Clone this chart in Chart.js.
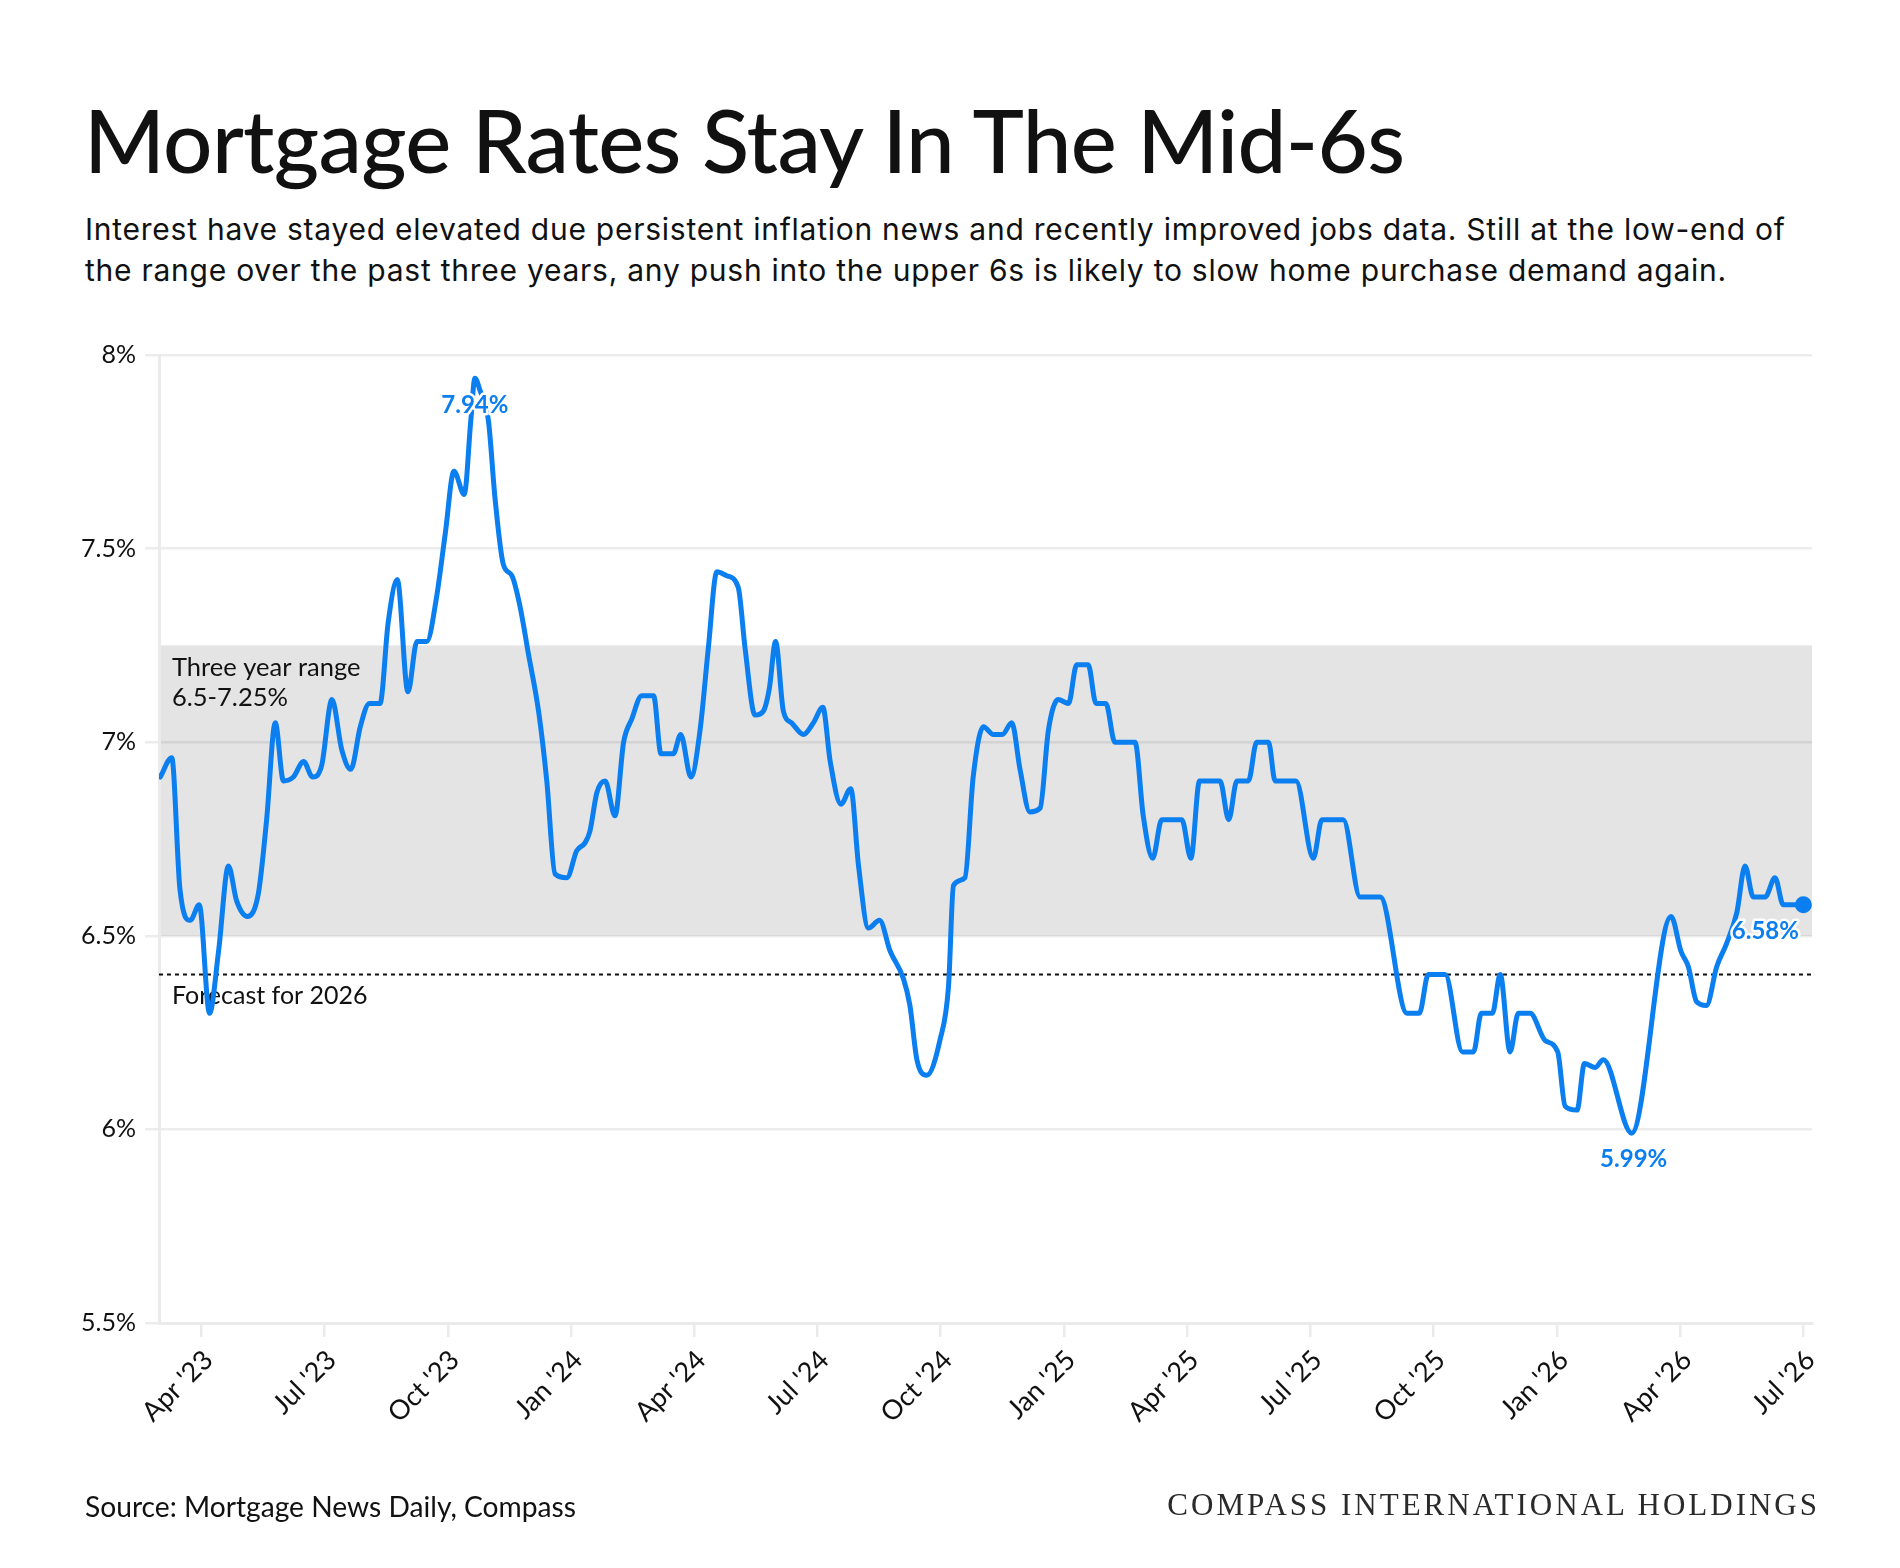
<!DOCTYPE html>
<html>
<head>
<meta charset="utf-8">
<script src="https://cdn.jsdelivr.net/npm/chart.js@4.4.1/dist/chart.umd.min.js"></script>
<style>
  html, body { margin: 0; padding: 0; background: #fff; }
  body { width: 1900px; height: 1568px; position: relative; overflow: hidden; font-family: Lato, "Open Sans", sans-serif; color: #111; }
  #title { position: absolute; left: 84px; top: 96px; font-size: 87px; line-height: 87px; font-weight: 500; letter-spacing: -0.7px; white-space: nowrap; }
  #sub { position: absolute; left: 85px; top: 209px; font-family: Inter, Lato, sans-serif; font-size: 30px; line-height: 41px; letter-spacing: 0.75px; white-space: nowrap; }
  #source { position: absolute; left: 85px; top: 1490px; font-size: 28.2px; line-height: 32px; white-space: nowrap; }
  #brand { position: absolute; right: 80px; top: 1488px; font-family: "Liberation Serif", "DejaVu Serif", serif; font-size: 31px; line-height: 34px; letter-spacing: 3px; color: #2a2a2a; white-space: nowrap; }
  #wrap { position: absolute; left: 0; top: 0; width: 1900px; height: 1568px; }
</style>
</head>
<body>
<div id="title">Mortgage Rates Stay In The Mid-6s</div>
<div id="sub">Interest have stayed elevated due persistent inflation news and recently improved jobs data. Still at the low-end of<br>the range over the past three years, any push into the upper 6s is likely to slow home purchase demand again.</div>
<div id="wrap"><canvas id="chart"></canvas></div>
<div id="source">Source: Mortgage News Daily, Compass</div>
<div id="brand">COMPASS INTERNATIONAL HOLDINGS</div>
<script>
// x = months after 1 Jan 2023 (3 = Apr 2023), y = 30-yr mortgage rate in %
var monthPos = [
  2.00, 2.28, 2.48, 2.73, 2.95, 3.20, 3.42, 3.66, 3.86, 4.12, 4.39, 4.59, 4.80, 5.00, 5.24, 5.49, 5.71, 5.93,
  6.18, 6.42, 6.64, 6.87, 7.09, 7.35, 7.55, 7.77, 8.03, 8.25, 8.49, 8.72, 8.94, 9.15, 9.40, 9.56, 9.66, 9.78,
  9.99, 10.15, 10.35, 10.56, 10.76, 10.96, 11.21, 11.41, 11.61, 11.90, 12.14, 12.34, 12.46, 12.63, 12.83, 13.07,
  13.28, 13.48, 13.72, 14.01, 14.19, 14.49, 14.67, 14.92, 15.14, 15.34, 15.55, 15.79, 16.07, 16.24, 16.48, 16.68,
  16.83, 16.98, 17.17, 17.37, 17.66, 17.90, 18.13, 18.31, 18.57, 18.81, 19.00, 19.24, 19.51, 19.77, 20.09, 20.25,
  20.42, 20.66, 20.98, 21.19, 21.31, 21.59, 21.79, 22.04, 22.28, 22.50, 22.73, 22.93, 23.17, 23.42, 23.62, 23.86,
  24.11, 24.31, 24.59, 24.78, 25.02, 25.24, 25.73, 25.93, 26.16, 26.38, 26.87, 27.09, 27.30, 27.80, 28.01, 28.21,
  28.49, 28.69, 28.98, 29.14, 29.65, 30.07, 30.28, 30.80, 31.21, 31.70, 32.35, 32.65, 32.87, 33.28, 33.70, 33.97,
  34.16, 34.43, 34.62, 34.86, 35.06, 35.35, 35.71, 36.02, 36.20, 36.49, 36.67, 36.93, 37.13, 37.82, 38.78, 39.02,
  39.20, 39.40, 39.64, 39.89, 40.13, 40.38, 40.58, 40.78, 41.07, 41.31, 41.51, 42.00
];
var rates = [
  6.91, 6.96, 6.62, 6.54, 6.58, 6.30, 6.46, 6.68, 6.59, 6.55, 6.61, 6.80, 7.05, 6.90, 6.91, 6.95, 6.91, 6.94,
  7.11, 6.98, 6.93, 7.04, 7.10, 7.10, 7.31, 7.42, 7.13, 7.26, 7.26, 7.37, 7.54, 7.70, 7.64, 7.83, 7.94, 7.91,
  7.83, 7.63, 7.46, 7.43, 7.35, 7.23, 7.08, 6.90, 6.66, 6.65, 6.72, 6.74, 6.77, 6.87, 6.90, 6.81,
  7.00, 7.06, 7.12, 7.12, 6.97, 6.97, 7.02, 6.91, 7.03, 7.24, 7.44, 7.43, 7.40, 7.24, 7.07, 7.08,
  7.14, 7.26, 7.08, 7.05, 7.02, 7.05, 7.09, 6.95, 6.84, 6.88, 6.68, 6.52, 6.54, 6.46, 6.39, 6.32,
  6.18, 6.14, 6.23, 6.37, 6.63, 6.65, 6.91, 7.04, 7.02, 7.02, 7.05, 6.93, 6.82, 6.83, 7.03, 7.11,
  7.10, 7.20, 7.20, 7.10, 7.10, 7.00, 7.00, 6.81, 6.70, 6.80, 6.80, 6.70, 6.90, 6.90, 6.80, 6.90,
  6.90, 7.00, 7.00, 6.90, 6.90, 6.70, 6.80, 6.80, 6.60, 6.60, 6.30, 6.30, 6.40, 6.40, 6.20, 6.20,
  6.30, 6.30, 6.40, 6.20, 6.30, 6.30, 6.23, 6.20, 6.06, 6.05, 6.17, 6.16, 6.18, 5.99, 6.55, 6.46,
  6.42, 6.33, 6.32, 6.42, 6.48, 6.56, 6.68, 6.60, 6.60, 6.65, 6.58, 6.58
];

var tickMonths = [3, 6, 9, 12, 15, 18, 21, 24, 27, 30, 33, 36, 39, 42];
var tickLabels = ["Apr '23", "Jul '23", "Oct '23", "Jan '24", "Apr '24", "Jul '24", "Oct '24",
                  "Jan '25", "Apr '25", "Jul '25", "Oct '25", "Jan '26", "Apr '26", "Jul '26"];
var yTicks = [5.5, 6, 6.5, 7, 7.5, 8];
var yTickLabels = ['5.5%', '6%', '6.5%', '7%', '7.5%', '8%'];

var rangeBand = [6.5, 7.25];
var forecast = 6.4;
var blue = '#0b7ef0';

Chart.defaults.font.family = 'Lato, "Open Sans", sans-serif';
Chart.defaults.color = '#111';

var points = monthPos.map(function (m, i) { return { x: m, y: rates[i] }; });
var last = points.length - 1;
var iMax = rates.indexOf(Math.max.apply(null, rates));
var iMin = rates.indexOf(Math.min.apply(null, rates));

// shaded range, forecast line and value labels
var extras = {
  id: 'extras',
  beforeDraw: function (chart) {
    var ctx = chart.ctx, a = chart.chartArea, y = chart.scales.y;
    var top = y.getPixelForValue(rangeBand[1]), bot = y.getPixelForValue(rangeBand[0]);
    ctx.save();
    ctx.fillStyle = '#e4e4e4';
    ctx.fillRect(a.left, top, a.right - a.left, bot - top);
    ctx.restore();
  },
  beforeDatasetsDraw: function (chart) {
    var ctx = chart.ctx, a = chart.chartArea, y = chart.scales.y;
    var fy = y.getPixelForValue(forecast);
    ctx.save();
    ctx.strokeStyle = '#111';
    ctx.lineWidth = 2;
    ctx.setLineDash([4, 4]);
    ctx.beginPath();
    ctx.moveTo(a.left, fy);
    ctx.lineTo(a.right, fy);
    ctx.stroke();
    ctx.setLineDash([]);
    ctx.fillStyle = '#111';
    ctx.font = '25.5px Lato, "Open Sans", sans-serif';
    ctx.textBaseline = 'middle';
    var ty = y.getPixelForValue(rangeBand[1]);
    ctx.fillText('Three year range', a.left + 13, ty + 22);
    ctx.fillText('6.5-7.25%', a.left + 13, ty + 52);
    ctx.font = '25px Lato, "Open Sans", sans-serif';
    ctx.fillText('Forecast for 2026', a.left + 13, fy + 21);
    ctx.restore();
  },
  afterDatasetsDraw: function (chart) {
    var ctx = chart.ctx, x = chart.scales.x, y = chart.scales.y;
    var marks = [
      { i: iMax, dx: 0, dy: 27 },
      { i: iMin, dx: 2, dy: 26 },
      { i: last, dx: -38, dy: 26 }
    ];
    ctx.save();
    ctx.font = 'bold 24px Lato, "Open Sans", sans-serif';
    ctx.textAlign = 'center';
    ctx.textBaseline = 'middle';
    ctx.lineJoin = 'round';
    marks.forEach(function (mk) {
      var px = x.getPixelForValue(monthPos[mk.i]) + mk.dx;
      var py = y.getPixelForValue(rates[mk.i]) + mk.dy;
      var txt = rates[mk.i].toFixed(2) + '%';
      ctx.strokeStyle = '#fff';
      ctx.lineWidth = 5;
      ctx.strokeText(txt, px, py);
      ctx.fillStyle = blue;
      ctx.fillText(txt, px, py);
    });
    ctx.restore();
  }
};

new Chart(document.getElementById('chart'), {
  type: 'line',
  data: {
    datasets: [{
      data: points,
      borderColor: blue,
      backgroundColor: blue,
      borderWidth: 5,
      cubicInterpolationMode: 'monotone',
      pointRadius: points.map(function (p, i) { return i === last ? 6 : 0; }),
      pointHoverRadius: 0,
      borderCapStyle: 'round',
      borderJoinStyle: 'round'
    }]
  },
  options: {
    responsive: true,
    maintainAspectRatio: false,
    animation: false,
    devicePixelRatio: 1,
    layout: { padding: { left: 40, right: 88, top: 355, bottom: 128 } },
    plugins: { legend: { display: false }, tooltip: { enabled: false } },
    scales: {
      x: {
        type: 'linear',
        min: 1.97,
        max: 42.21,
        afterFit: function (s) { s.height = 117; },
        afterBuildTicks: function (s) { s.ticks = tickMonths.map(function (v) { return { value: v }; }); },
        ticks: {
          autoSkip: false,
          minRotation: 45,
          maxRotation: 45,
          padding: 7,
          labelOffset: 7,
          font: { size: 27 },
          color: '#111',
          callback: function (v) { var k = tickMonths.indexOf(v); return k >= 0 ? tickLabels[k] : ''; }
        },
        grid: { drawOnChartArea: false, drawTicks: true, tickLength: 14, color: '#ebebeb', lineWidth: 2.5 },
        border: { display: true, color: '#ebebeb', width: 3 }
      },
      y: {
        min: 5.5,
        max: 8,
        afterFit: function (s) { s.width = 119; },
        afterBuildTicks: function (s) { s.ticks = yTicks.map(function (v) { return { value: v }; }); },
        ticks: {
          padding: 9,
          font: { size: 25 },
          color: '#111',
          callback: function (v) { var k = yTicks.indexOf(v); return k >= 0 ? yTickLabels[k] : ''; }
        },
        grid: { color: 'rgba(0,0,0,0.075)', lineWidth: 2.5, tickLength: 14 },
        border: { display: true, color: '#ebebeb', width: 3 }
      }
    }
  },
  plugins: [extras]
});
</script>
</body>
</html>
